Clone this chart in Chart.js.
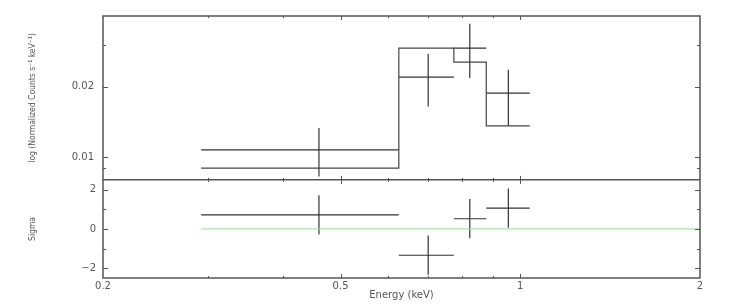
<!DOCTYPE html>
<html>
<head>
<meta charset="utf-8">
<script src="https://cdn.jsdelivr.net/npm/chart.js@4/dist/chart.umd.min.js"></script>
<style>
  html, body { margin: 0; padding: 0; background: #fff; }
  #spec { display: block; }
</style>
</head>
<body>
<canvas id="spec" width="747" height="305"></canvas>
<script>
// spectral bins (keV) and fitted values
const binLo    = [0.292, 0.626, 0.774, 0.877];
const binHi    = [0.626, 0.774, 0.877, 1.037];
const energy   = [0.460, 0.701, 0.823, 0.955];
const counts   = [0.01074, 0.02196, 0.0292, 0.01876];
const countsLo = [0.00826, 0.01644, 0.02174, 0.0136];
const countsHi = [0.0133, 0.02752, 0.0371, 0.0236];
const model    = [0.00898, 0.0292, 0.02544, 0.0136];
const sigma    = [0.72, -1.34, 0.52, 1.06];
const sigmaErr = [1, 1, 1, 1];

// axis ticks
const xLabels      = [0.2, 0.5, 1, 2];
const xMajorMarks  = [0.5, 1];
const xMinorMarks  = [0.3, 0.4, 0.6, 0.7, 0.8, 0.9];
const yLabels      = [0.01, 0.02];
const yMinorMarks  = [0.009, 0.03];
const sigLabels    = [-2, 0, 2];
const sigMinorMarks = [-1, 1];

const INK = '#333';
const FRAME = '#555';

// build crosses as segments separated by gaps
function hBars(lo, hi, v) {
    const pts = [];
    v.forEach((val, i) => {
        pts.push({ x: lo[i], y: val }, { x: hi[i], y: val }, { x: hi[i], y: null });
    });
    return pts;
}
function vBars(xs, lo, hi) {
    const pts = [];
    xs.forEach((x, i) => {
        pts.push({ x: x, y: lo[i] }, { x: x, y: hi[i] }, { x: x, y: null });
    });
    return pts;
}

const modelSteps = binLo.map((e, i) => ({ x: e, y: model[i] }));
modelSteps.push({ x: binHi[binHi.length - 1], y: model[model.length - 1] });

const sigLo = sigma.map((s, i) => s - sigmaErr[i]);
const sigHi = sigma.map((s, i) => s + sigmaErr[i]);

const lineBase = { pointRadius: 0, borderWidth: 1.2, fill: false, spanGaps: false };

/* ---------------- frame + inward ticks ---------------- */

const frameTicks = {
    id: 'frameTicks',
    afterDraw(chart) {
        const { ctx, chartArea: a } = chart;
        const x = chart.scales.x, y = chart.scales.y, ys = chart.scales.ySig;
        const mid = y.bottom;

        ctx.save();
        ctx.strokeStyle = FRAME;
        ctx.lineWidth = 1.5;
        ctx.strokeRect(a.left, a.top, a.right - a.left, a.bottom - a.top);
        ctx.beginPath();
        ctx.moveTo(a.left, mid);
        ctx.lineTo(a.right, mid);
        ctx.stroke();

        ctx.lineWidth = 1;
        function seg(x1, y1, x2, y2) {
            ctx.beginPath();
            ctx.moveTo(x1, y1);
            ctx.lineTo(x2, y2);
            ctx.stroke();
        }
        function xMark(v, len) {
            const px = Math.round(x.getPixelForValue(v)) + 0.5;
            seg(px, a.top, px, a.top + len);
            seg(px, mid - len, px, mid + len);
            seg(px, a.bottom, px, a.bottom - len);
        }
        function yMark(scale, v, len) {
            const py = Math.round(scale.getPixelForValue(v)) + 0.5;
            seg(a.left, py, a.left + len, py);
            seg(a.right, py, a.right - len, py);
        }
        xMinorMarks.forEach(v => xMark(v, 2));
        xMajorMarks.forEach(v => xMark(v, 4));
        yMinorMarks.forEach(v => yMark(y, v, 3));
        yLabels.forEach(v => yMark(y, v, 5));
        sigMinorMarks.forEach(v => yMark(ys, v, 3));
        sigLabels.forEach(v => yMark(ys, v, 5));
        ctx.restore();
    }
};

const tickFont = { family: "'DejaVu Sans', sans-serif", size: 10 };
const titleFont = { family: "'Liberation Sans Narrow', 'DejaVu Sans Condensed', sans-serif", size: 8.5 };

new Chart(document.getElementById('spec').getContext('2d'), {
    type: 'line',
    data: {
        datasets: [
            { ...lineBase, label: 'model', data: modelSteps, stepped: 'before',
              borderColor: '#444', xAxisID: 'x', yAxisID: 'y' },
            { ...lineBase, label: 'data x', data: hBars(binLo, binHi, counts),
              borderColor: INK, xAxisID: 'x', yAxisID: 'y' },
            { ...lineBase, label: 'data err', data: vBars(energy, countsLo, countsHi),
              borderColor: INK, xAxisID: 'x', yAxisID: 'y' },
            { ...lineBase, label: 'zero', data: [{ x: binLo[0], y: 0 }, { x: 2, y: 0 }],
              borderColor: '#8fe08f', borderWidth: 1, xAxisID: 'x', yAxisID: 'ySig' },
            { ...lineBase, label: 'resid x', data: hBars(binLo, binHi, sigma),
              borderColor: INK, xAxisID: 'x', yAxisID: 'ySig' },
            { ...lineBase, label: 'resid err', data: vBars(energy, sigLo, sigHi),
              borderColor: INK, xAxisID: 'x', yAxisID: 'ySig' }
        ]
    },
    options: {
        responsive: false,
        animation: false,
        events: [],
        layout: { padding: { top: 16, right: 47, bottom: 0, left: 0 } },
        plugins: { legend: { display: false }, tooltip: { enabled: false } },
        scales: {
            x: {
                type: 'logarithmic',
                position: 'bottom',
                min: 0.2, max: 2,
                grid: { display: false, drawTicks: false },
                border: { display: false },
                afterBuildTicks: s => { s.ticks = xLabels.map(v => ({ value: v })); },
                afterFit: s => { s.height = 27; },
                ticks: {
                    autoSkip: false, maxRotation: 0, padding: 2,
                    color: '#555', font: tickFont,
                    callback: v => String(v)
                },
                title: {
                    display: true, text: 'Energy (keV)', color: '#555',
                    font: { family: "'DejaVu Sans', sans-serif", size: 10 },
                    padding: { top: 0, bottom: 4 }
                }
            },
            y: {
                type: 'logarithmic',
                position: 'left',
                stack: 'panels', stackWeight: 1.67, weight: 1,
                min: 0.008, max: 0.04,
                grid: { display: false, drawTicks: false },
                border: { display: false },
                afterBuildTicks: s => { s.ticks = yLabels.map(v => ({ value: v })); },
                afterFit: s => { s.width = 103; },
                ticks: {
                    autoSkip: false, padding: 9, color: '#555', font: tickFont,
                    callback: v => v.toFixed(2)
                },
                title: {
                    display: true, text: 'log (Normalized Counts s\u207B\u00B9 keV\u207B\u00B9)',
                    color: '#555', font: titleFont, padding: { top: 28, bottom: 0 }
                }
            },
            ySig: {
                type: 'linear',
                position: 'left',
                stack: 'panels', stackWeight: 1, weight: 0,
                min: -2.5, max: 2.5,
                grid: { display: false, drawTicks: false },
                border: { display: false },
                afterBuildTicks: s => { s.ticks = sigLabels.map(v => ({ value: v })); },
                afterFit: s => { s.width = 103; },
                ticks: {
                    autoSkip: false, padding: 7, color: '#555', font: tickFont,
                    callback: v => (v < 0 ? '\u2212' + Math.abs(v) : String(v))
                },
                title: {
                    display: true, text: 'Sigma',
                    color: '#555', font: titleFont, padding: { top: 28, bottom: 0 }
                }
            }
        }
    },
    plugins: [frameTicks]
});
</script>
</body>
</html>
